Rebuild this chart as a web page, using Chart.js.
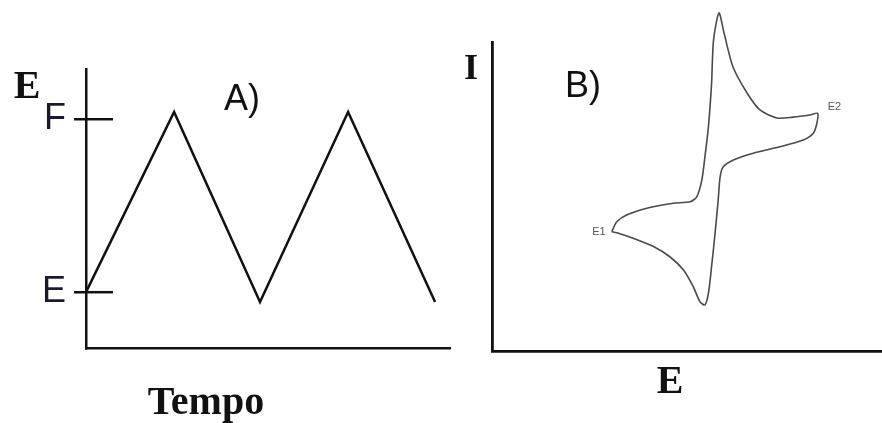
<!DOCTYPE html>
<html>
<head>
<meta charset="utf-8">
<script src="https://cdn.jsdelivr.net/npm/chart.js@4"></script>
<style>
  html, body { margin: 0; padding: 0; background: #fff; }
  #wrap { position: relative; width: 882px; height: 423px; overflow: hidden; }
  canvas { position: absolute; top: 0; }
  #graficoA { left: 0; }
  #graficoB { left: 460px; }
</style>
</head>
<body>
<div id="wrap">
  <canvas id="graficoA" width="460" height="423"></canvas>
  <canvas id="graficoB" width="422" height="423"></canvas>
</div>
<script>
// A) potencial aplicado x tempo (onda triangular)
const tempoA = [0, 24.2, 47.8, 72, 95.9];
const potencialA = [20, 84.6, 16.5, 84.6, 16.5];
const marcasA = [20, 82];
const rotulosA = ["E", "F"];

// B) voltamograma ciclico, I x E (percorrido a partir de E1)
const potencialB = [30.7, 32.0, 34.5, 39.7, 46.5, 50.8, 52.5, 53.8, 54.6, 55.5, 56.3, 56.8, 58.2,
  59.5, 61.8, 65.4, 68.7, 73.1, 77.2, 81.5, 83.5, 83.3, 82.4, 79.8, 73.8, 67.0, 61.9,
  59.3, 58.5, 58.0, 57.2, 56.3, 55.5, 54.6, 53.3, 51.6, 49.1, 45.6, 41.4, 36.2, 32.0, 30.7];
const correnteB = [38.6, 41.8, 44.0, 46.2, 47.8, 48.3, 49.9, 55.3, 62.9, 72.6, 86.6, 100.6, 109.4,
  102.9, 91.9, 83.5, 78.0, 75.4, 75.7, 76.4, 76.9, 73.7, 70.5, 68.3, 66.1, 64.0, 61.8,
  59.6, 56.4, 48.9, 38.1, 27.3, 18.7, 14.9, 16.0, 20.8, 26.2, 30.5, 33.8, 36.5, 38.3, 38.6];
const rotuloE1 = "E1";
const rotuloE2 = "E2";
const indiceE2 = potencialB.indexOf(Math.max(...potencialB));

const preto = "#111";
const serifa = "'Liberation Serif', 'Times New Roman', serif";
const sans = "'Liberation Sans', Arial, sans-serif";

function escrever(ctx, texto, x, y, fonte, cor, alinh) {
  ctx.save();
  ctx.font = fonte;
  ctx.fillStyle = cor || preto;
  ctx.textAlign = alinh || "center";
  ctx.textBaseline = "middle";
  ctx.fillText(texto, x, y);
  ctx.restore();
}

const textosA = {
  id: "textosA",
  afterDatasetsDraw(chart) {
    const ctx = chart.ctx;
    const y = chart.scales.y;
    const area = chart.chartArea;
    // parte interna das marcas E e F
    ctx.save();
    ctx.strokeStyle = preto;
    ctx.lineWidth = 2.5;
    marcasA.forEach(v => {
      const py = y.getPixelForValue(v);
      ctx.beginPath();
      ctx.moveTo(area.left, py);
      ctx.lineTo(area.left + 27, py);
      ctx.stroke();
    });
    ctx.restore();
    escrever(ctx, "E", 27, 88, "bold 40px " + serifa);
    escrever(ctx, "A)", 242, 100, "36px " + sans);
    escrever(ctx, "Tempo", 206, 404, "bold 40px " + serifa);
  }
};

new Chart(document.getElementById("graficoA"), {
  type: "line",
  data: {
    datasets: [{
      data: tempoA.map((t, i) => ({ x: t, y: potencialA[i] })),
      borderColor: preto,
      borderWidth: 2.5,
      pointRadius: 0,
      tension: 0,
      fill: false
    }]
  },
  options: {
    responsive: false,
    animation: false,
    layout: { padding: { left: 42, top: 69, right: 10, bottom: 75 } },
    plugins: { legend: { display: false }, tooltip: { enabled: false } },
    scales: {
      x: {
        type: "linear",
        min: 0,
        max: 100,
        ticks: { display: false },
        grid: { display: false },
        border: { color: preto, width: 2.5 },
        afterFit: s => { s.height = 0; }
      },
      y: {
        min: 0,
        max: 100,
        afterBuildTicks: s => { s.ticks = marcasA.map(v => ({ value: v })); },
        ticks: {
          autoSkip: false,
          padding: 8,
          color: "#1a1a2a",
          font: { family: sans, size: 36 },
          callback: (v, i) => rotulosA[i]
        },
        grid: { drawOnChartArea: false, tickLength: 12, color: preto, lineWidth: 2.5 },
        border: { color: preto, width: 2.5 },
        afterFit: s => { s.width = 44; }
      }
    }
  },
  plugins: [textosA]
});

const textosB = {
  id: "textosB",
  afterDatasetsDraw(chart) {
    const ctx = chart.ctx;
    const x = chart.scales.x;
    const y = chart.scales.y;
    escrever(ctx, "I", 11, 70, "bold 36px " + serifa);
    escrever(ctx, "B)", 123, 87, "36px " + sans);
    escrever(ctx, "E", 210, 383, "bold 40px " + serifa);
    escrever(ctx, rotuloE1, x.getPixelForValue(potencialB[0]) - 6, y.getPixelForValue(correnteB[0]),
      "11px " + sans, "#555", "right");
    escrever(ctx, rotuloE2, x.getPixelForValue(potencialB[indiceE2]) + 10, y.getPixelForValue(correnteB[indiceE2]) - 6,
      "11px " + sans, "#555", "left");
  }
};

new Chart(document.getElementById("graficoB"), {
  type: "line",
  data: {
    datasets: [{
      data: potencialB.map((e, i) => ({ x: e, y: correnteB[i] })),
      borderColor: "#4a4a4a",
      borderWidth: 1.6,
      pointRadius: 0,
      tension: 0.25,
      fill: false,
      clip: false
    }]
  },
  options: {
    responsive: false,
    animation: false,
    layout: { padding: { left: 32, top: 42, right: 0, bottom: 72 } },
    plugins: { legend: { display: false }, tooltip: { enabled: false } },
    scales: {
      x: {
        type: "linear",
        min: 0,
        max: 100,
        ticks: { display: false },
        grid: { display: false },
        border: { color: preto, width: 2.8 },
        afterFit: s => { s.height = 0; }
      },
      y: {
        min: 0,
        max: 100,
        ticks: { display: false },
        grid: { display: false },
        border: { color: preto, width: 2.8 },
        afterFit: s => { s.width = 0; }
      }
    }
  },
  plugins: [textosB]
});
</script>
</body>
</html>
